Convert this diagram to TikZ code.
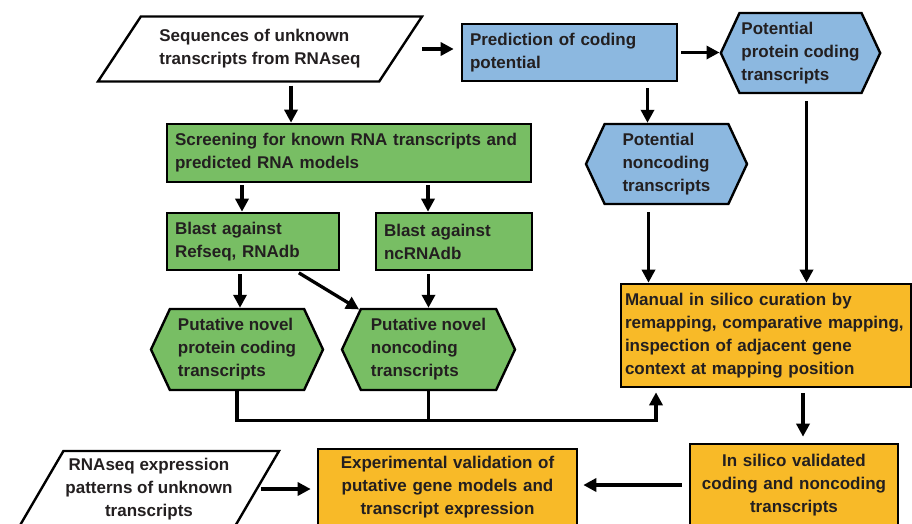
\documentclass[tikz,border=0pt]{standalone}
\usepackage{fontspec}
\setmainfont{Liberation Sans}
\usetikzlibrary{shapes.geometric,shapes.symbols,arrows.meta}
\definecolor{predblue}{HTML}{8CB8E0}
\definecolor{screengreen}{HTML}{78BE64}
\definecolor{curorange}{HTML}{F8BA28}
\definecolor{inkgray}{HTML}{231F20}
\tikzset{
  lbl/.style={font=\fontsize{17}{23}\selectfont\bfseries,text=inkgray},
  box/.style={lbl,draw,line width=2.6pt,rectangle,inner xsep=8pt,align=left},
  hexa/.style={lbl,draw,line width=2.4pt,signal,signal to=west and east,
    signal pointer angle=130,inner sep=2pt,align=left},
  para/.style={lbl,draw,line width=2.4pt,trapezium,trapezium stretches body,
    inner sep=2pt,align=left},
  arr/.style={->,line width=3.3pt},
  wire/.style={line width=3.3pt}
}
\begin{document}
\begin{tikzpicture}[x=1pt,y=-1pt,>={Triangle[length=13pt,width=13pt]}]
  \useasboundingbox (0,0) rectangle (912,523);
  \node[para,trapezium left angle=45,trapezium right angle=135,minimum width=324pt,
    minimum height=65pt] (seq) at (260,49) {Sequences of unknown\\transcripts from RNAseq};
  \node[box,fill=predblue,text width=199pt,minimum height=57pt] (pred) at (569.5,52.5)
    {Prediction of coding\\potential};
  \node[hexa,fill=predblue,minimum width=151pt,minimum height=80pt] (ppc) at (800.5,53)
    {Potential\\protein coding\\transcripts};
  \node[hexa,fill=predblue,minimum width=161pt,minimum height=80pt] (pnc) at (666.5,164)
    {Potential\\noncoding\\transcripts};
  \node[box,fill=screengreen,text width=348pt,minimum height=58pt] (screen) at (349,153)
    {Screening for known RNA transcripts and\\predicted RNA models};
  \node[box,fill=screengreen,text width=156pt,minimum height=57pt] (blast1) at (253,241.5)
    {Blast against\\Refseq, RNAdb};
  \node[box,fill=screengreen,text width=140pt,minimum height=57pt] (blast2) at (454,241.5)
    {Blast against\\ncRNAdb};
  \node[hexa,fill=screengreen,minimum width=172pt,minimum height=81pt] (pnp) at (237,349.5)
    {Putative novel\\protein coding\\transcripts};
  \node[hexa,fill=screengreen,minimum width=173pt,minimum height=81pt] (pnn) at (428.5,349.5)
    {Putative novel\\noncoding\\transcripts};
  \node[box,fill=curorange,text width=282pt,inner xsep=4pt,minimum height=103pt] (manual)
    at (766,335.5) {Manual in silico curation by\\remapping, comparative mapping,\\
    inspection of adjacent gene\\context at mapping position};
  \node[box,fill=curorange,align=center,text width=192pt,minimum height=82pt] (insilico)
    at (794,485) {In silico validated\\coding and noncoding\\transcripts};
  \node[box,fill=curorange,align=center,text width=243pt,minimum height=76pt] (exper)
    at (447.5,487) {Experimental validation of\\putative gene models and\\transcript expression};
  \node[para,align=center,trapezium left angle=56,trapezium right angle=124,
    minimum width=256pt,minimum height=76pt] (rnaexp) at (149,489)
    {RNAseq expression\\patterns of unknown\\transcripts};

  \draw[arr,shorten <=20pt,shorten >=7pt] (seq.east) -- (seq.east -| pred.west);
  \draw[arr,shorten <=3pt] (pred.east) -- (pred.east -| ppc.west);
  \draw[arr,shorten <=3pt] ([xshift=31]seq.south) -- ([xshift=31]seq.south |- screen.north);
  \draw[arr,shorten <=6pt] ([xshift=78]pred.south) -- ([xshift=78]pred.south |- pnc.north);
  \draw[arr,shorten <=7pt] ([xshift=-18]pnc.south) -- ([xshift=-18]pnc.south |- manual.north);
  \draw[arr,shorten <=7pt] ([xshift=6]ppc.south) -- ([xshift=6]ppc.south |- manual.north);
  \draw[arr,shorten <=2pt] ([xshift=-11]blast1.north |- screen.south) -- ([xshift=-11]blast1.north);
  \draw[arr,shorten <=2pt] ([xshift=-26]blast2.north |- screen.south) -- ([xshift=-26]blast2.north);
  \draw[arr,shorten <=3pt] ([xshift=3]pnp.north |- blast1.south) -- ([xshift=3]pnp.north);
  \draw[arr,shorten <=3pt] ([xshift=-44]blast1.south east) -- (pnn.150);
  \draw[arr,shorten <=3pt] (pnn.north |- blast2.south) -- (pnn.north);
  \coordinate (bend) at ([xshift=-110,yshift=-32]manual.south);
  \draw[arr,shorten >=4pt] (pnp.south) |- (bend) -- (bend |- manual.south);
  \draw[wire] (pnn.south) -- (pnn.south |- bend);
  \draw[arr,shorten <=5pt,shorten >=6pt] ([xshift=37]manual.south) -- ([xshift=37]manual.south |- insilico.north);
  \draw[arr,shorten <=7pt,shorten >=5pt] (insilico.west) -- (insilico.west -| exper.east);
  \draw[arr,shorten <=3pt,shorten >=6pt] (rnaexp.east) -- (rnaexp.east -| exper.west);
\end{tikzpicture}
\end{document}
